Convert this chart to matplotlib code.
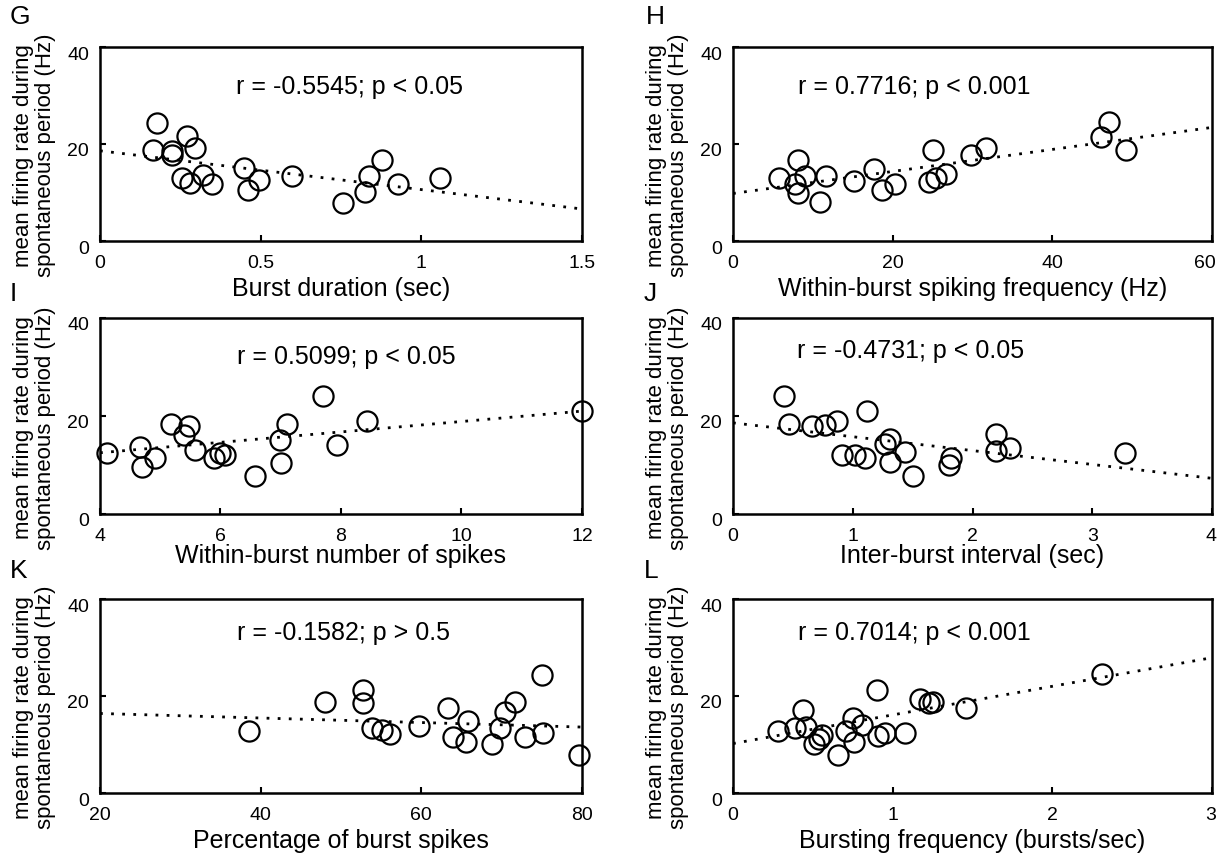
import numpy as np
import matplotlib
matplotlib.use("Agg")
import matplotlib.pyplot as plt
from matplotlib.ticker import FormatStrFormatter
from matplotlib.transforms import ScaledTranslation

plt.rcParams["font.family"] = ["Liberation Sans", "DejaVu Sans"]


# ============================================================
# DATA
# ============================================================
# G: burst duration (sec)
G_x = [0.178, 0.166, 0.223, 0.223, 0.270, 0.297, 0.254, 0.281, 0.319, 0.349,
       0.447, 0.462, 0.496, 0.599, 0.757, 0.825, 0.838, 0.879, 0.926, 1.057]
G_y = [24.3, 18.7, 18.5, 17.7, 21.6, 19.2, 12.9, 12.0, 13.7, 11.8,
       15.1, 10.6, 12.5, 13.3, 7.9, 10.1, 13.4, 16.6, 11.8, 12.9]

# H: within-burst spiking frequency (Hz)
H_x = [5.7, 8.1, 7.8, 8.1, 9.0, 11.6, 10.9, 15.2, 17.7, 18.7,
       20.3, 25.1, 24.6, 25.4, 26.7, 29.8, 31.7, 46.1, 47.1, 49.2]
H_y = [12.9, 16.6, 11.8, 9.9, 13.5, 13.5, 8.0, 12.4, 14.9, 10.6,
       11.8, 18.7, 12.2, 12.9, 13.9, 17.7, 19.2, 21.4, 24.5, 18.7]

# I: within-burst number of spikes
I_x = [4.11, 4.67, 4.70, 4.92, 5.18, 5.48, 5.40, 5.57, 5.90, 5.99,
       6.08, 6.58, 6.99, 7.01, 7.11, 7.70, 7.93, 8.43, 12.0]
I_y = [12.5, 13.7, 9.6, 11.4, 18.4, 17.9, 16.2, 13.0, 11.4, 12.5,
       12.1, 7.7, 15.2, 10.4, 18.4, 24.1, 14.0, 19.0, 21.0]

# J: inter-burst interval (sec)
J_x = [0.43, 0.47, 0.66, 0.77, 0.87, 1.12, 0.91, 1.02, 1.10, 1.27,
       1.31, 1.31, 1.44, 1.50, 1.80, 1.82, 2.20, 2.20, 2.31, 3.27]
J_y = [24.1, 18.4, 17.9, 18.2, 18.9, 21.1, 12.1, 12.1, 11.4, 14.3,
       15.3, 10.6, 12.6, 7.8, 9.9, 11.4, 16.4, 12.8, 13.5, 12.5]

# K: percentage of burst spikes
K_x = [38.5, 48.0, 52.7, 52.7, 53.9, 55.1, 56.1, 59.7, 63.3, 63.9,
       65.5, 65.8, 68.8, 69.8, 70.4, 71.6, 72.9, 75.0, 75.1, 79.6]
K_y = [12.7, 18.7, 21.3, 18.6, 13.4, 12.9, 12.1, 13.9, 17.5, 11.6,
       10.5, 14.9, 10.1, 13.4, 16.6, 18.8, 11.6, 24.4, 12.3, 7.9]

# L: bursting frequency (bursts/sec)
L_x = [0.28, 0.39, 0.44, 0.46, 0.51, 0.56, 0.54, 0.66, 0.71, 0.75,
       0.76, 0.81, 0.90, 0.91, 0.95, 1.08, 1.17, 1.23, 1.25, 1.46, 2.31]
L_y = [12.8, 13.5, 17.1, 13.7, 10.2, 11.9, 11.2, 7.9, 12.8, 15.4,
       10.6, 14.0, 21.2, 11.7, 12.3, 12.4, 19.3, 18.6, 18.8, 17.6, 24.6]

# regression lines (intercept, slope) as drawn
fit_G = (18.6, -8.0)
fit_H = (9.8, 0.227)
fit_I = (8.25, 1.0625)
fit_J = (18.6, -2.83)
fit_K = (17.33, -0.0467)
fit_L = (10.2, 5.9)

letters = ["G", "H", "I", "J", "K", "L"]
xlabels = ["Burst duration (sec)",
           "Within-burst spiking frequency (Hz)",
           "Within-burst number of spikes",
           "Inter-burst interval (sec)",
           "Percentage of burst spikes",
           "Bursting frequency (bursts/sec)"]
stats = ["r = -0.5545; p < 0.05",
         "r = 0.7716; p < 0.001",
         "r = 0.5099; p < 0.05",
         "r = -0.4731; p < 0.05",
         "r = -0.1582; p > 0.5",
         "r = 0.7014; p < 0.001"]
xlims = [(0, 1.5), (0, 60), (4, 12), (0, 4), (20, 80), (0, 3)]
xticks = [[0, 0.5, 1, 1.5], [0, 20, 40, 60], [4, 6, 8, 10, 12],
          [0, 1, 2, 3, 4], [20, 40, 60, 80], [0, 1, 2, 3]]
yticks = [0, 20, 40]
ylabel = "mean firing rate during\nspontaneous period (Hz)"

xs = [G_x, H_x, I_x, J_x, K_x, L_x]
ys = [G_y, H_y, I_y, J_y, K_y, L_y]
fits = [fit_G, fit_H, fit_I, fit_J, fit_K, fit_L]


# ============================================================
# LAYOUT (pixel boxes -> figure fractions)
# ============================================================
W, H = 1217, 856
cols = [(100, 582), (733, 1212)]
rows = [(47, 241), (318, 514), (599, 793)]
text_pos = [(0.517, 0.795), (0.378, 0.795), (0.51, 0.80),
            (0.371, 0.83), (0.506, 0.825), (0.378, 0.825)]
label_pads = [4, 4, -1, -1, 4, 4]
letter_px = [(10, 5), (646, 5), (10, 282), (644, 282), (10, 559), (644, 559)]

fig = plt.figure(figsize=(W / 100, H / 100), dpi=100)
ytick_shift = ScaledTranslation(0, -6 / 100, fig.dpi_scale_trans)

for i in range(6):
    r, c = divmod(i, 2)
    x0, x1 = cols[c]
    y0, y1 = rows[r]
    ax = fig.add_axes([x0 / W, 1 - y1 / H, (x1 - x0) / W, (y1 - y0) / H])

    ax.plot(xs[i], ys[i], "o", ms=14.5, mfc="none", mec="black", mew=1.6,
            clip_on=False, zorder=3)

    lo, hi = xlims[i]
    b0, b1 = fits[i]
    xx = np.array([lo, hi])
    ax.plot(xx, b0 + b1 * xx, color="black", lw=2.0,
            linestyle=(0, (1, 3)), zorder=2)

    ax.set_xlim(lo, hi)
    ax.set_ylim(0, 40)
    ax.set_xticks(xticks[i])
    ax.set_yticks(yticks)
    ax.xaxis.set_major_formatter(FormatStrFormatter("%g"))
    ax.tick_params(direction="in", length=4, width=1.5, labelsize=14)
    ax.tick_params(axis="x", pad=10)
    ax.tick_params(axis="y", pad=8)
    for lab in ax.get_yticklabels():
        lab.set_transform(lab.get_transform() + ytick_shift)
    if c == 1:
        # the last tick label sits at the page edge; keep it inside
        last = ax.get_xticklabels()[-1]
        last.set_horizontalalignment("right")
        last.set_transform(last.get_transform() +
                           ScaledTranslation(4 / 100, 0, fig.dpi_scale_trans))
    for s in ax.spines.values():
        s.set_linewidth(1.8)

    ax.set_xlabel(xlabels[i], fontsize=18, labelpad=label_pads[i])
    ax.set_ylabel(ylabel, fontsize=16, linespacing=1.05)
    ax.yaxis.set_label_coords(-0.092, 0.44)

    tx, ty = text_pos[i]
    ax.text(tx, ty, stats[i], transform=ax.transAxes, fontsize=18,
            ha="center", va="center")

    lx, ly = letter_px[i]
    fig.text(lx / W, 1 - ly / H, letters[i], fontsize=19, ha="left", va="top")

fig.savefig("out.png", dpi=100)
plt.close(fig)
